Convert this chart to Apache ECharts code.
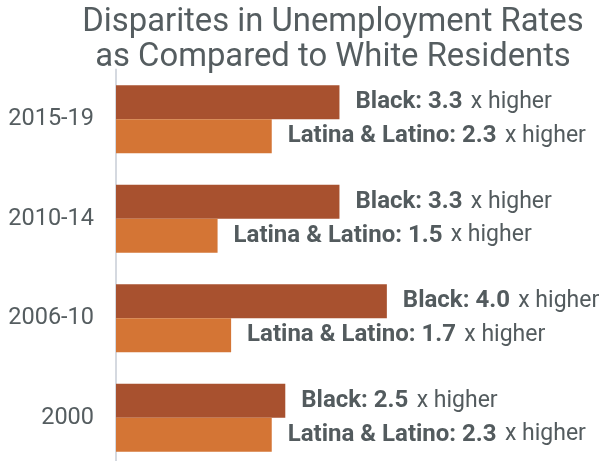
<!DOCTYPE html>
<html>
<head>
<meta charset="utf-8">
<script src="https://cdn.jsdelivr.net/npm/echarts@6/dist/echarts.min.js"></script>
<style>
  html, body { margin: 0; padding: 0; background: #fff; }
  #main { width: 610px; height: 461px; }
</style>
</head>
<body>
<div id="main"></div>
<script>
// categories bottom -> top
var periods = ['2000', '2006-10', '2010-14', '2015-19'];
var blackRatio = [2.5, 4.0, 3.3, 3.3];
var latinoRatio = [2.3, 1.7, 1.5, 2.3];

var txtColor = '#535b5e';

var chart = echarts.init(document.getElementById('main'));

function makeLabel(name) {
  return {
    show: true,
    position: 'right',
    distance: 16,
    formatter: function (p) {
      return '{b|' + name + ': ' + p.value.toFixed(1) + '} {n|x higher}';
    },
    rich: {
      b: { fontFamily: 'Roboto', fontSize: 24, fontWeight: 'bold', color: txtColor },
      n: { fontFamily: 'Roboto', fontSize: 23, color: txtColor, padding: [0, 0, 0, 5] }
    }
  };
}

var option = {
  animation: false,
  title: {
    text: 'Disparites in Unemployment Rates\nas Compared to White Residents',
    left: 328,
    textAlign: 'center',
    top: 0,
    textStyle: {
      fontFamily: 'Roboto',
      fontSize: 32.8,
      fontWeight: 'normal',
      color: '#555d60',
      lineHeight: 35
    }
  },
  grid: {
    left: 116,
    top: 69.5,
    width: 474,
    height: 398,
    outerBoundsMode: 'none',
    containLabel: false
  },
  xAxis: {
    type: 'value',
    min: 0,
    max: 7,
    show: false,
    splitLine: { show: false }
  },
  yAxis: {
    type: 'category',
    data: periods,
    axisTick: { show: false },
    axisLine: { show: true, lineStyle: { color: '#d5d9e0', width: 2 } },
    axisLabel: {
      fontFamily: 'Roboto',
      fontSize: 23.5,
      color: '#555d60',
      margin: 22
    }
  },
  series: [
    {
      name: 'Black',
      type: 'bar',
      data: blackRatio,
      barGap: '0%',
      barCategoryGap: '31.7%',
      itemStyle: { color: '#a8512f' },
      label: makeLabel('Black')
    },
    {
      name: 'Latina & Latino',
      type: 'bar',
      data: latinoRatio,
      barGap: '0%',
      barCategoryGap: '31.7%',
      itemStyle: { color: '#d47535' },
      label: makeLabel('Latina & Latino')
    }
  ]
};

chart.setOption(option);
</script>
</body>
</html>
